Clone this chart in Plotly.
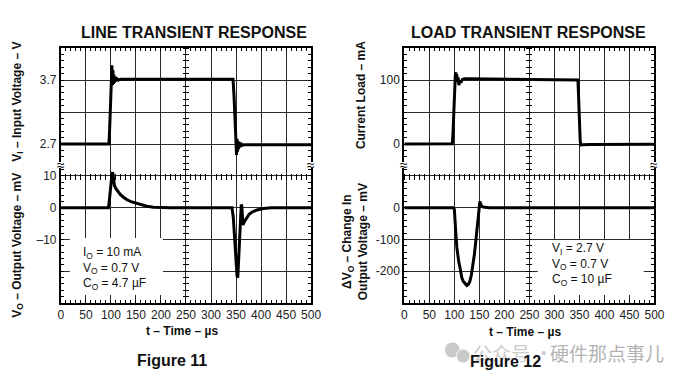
import plotly.graph_objects as go

# ---------------- data ----------------
# Figure 11 - line transient, input voltage (V)
line_t_in = [0, 96, 97.5, 99, 100.5, 102, 103, 104, 105, 106, 107, 108.5, 110, 112, 115, 120,
             200, 300, 344, 346, 348, 349.5, 351, 352, 353, 354, 355, 356.5, 358, 360, 363, 368, 380, 500]
line_v_in = [2.70, 2.70, 2.95, 3.35, 3.70, 3.93, 3.62, 3.85, 3.64, 3.78, 3.66, 3.75, 3.68, 3.72, 3.70, 3.71,
             3.71, 3.71, 3.71, 3.45, 3.00, 2.70, 2.53, 2.78, 2.58, 2.74, 2.62, 2.73, 2.65, 2.71, 2.68, 2.69, 2.69, 2.69]

# Figure 11 - output voltage (mV)
line_t_out = [0, 95, 97, 99, 100.5, 102, 103.5, 105, 107, 110, 114, 119, 125, 132, 140, 150, 160, 172, 185,
              200, 220, 342, 344.5, 347, 349.5, 352, 353.5, 355, 357, 359, 360.5, 361.5, 362.5, 364, 367,
              371, 376, 383, 392, 405, 420, 500]
line_v_out = [0, 0, 2.5, 6.0, 8.0, 10.5, 11.2, 8.5, 7.0, 6.0, 5.0, 4.1, 3.3, 2.5, 1.9, 1.4, 0.9, 0.45, 0.15,
              0.05, 0, 0, -3, -9, -16, -21.5, -22, -17, -8, -2, 1, 0.5, -4, -5.4, -4.3,
              -3.1, -2.1, -1.3, -0.7, -0.25, 0, 0]

# Figure 12 - load transient, load current (mA)
load_t_i = [0, 96, 97.5, 99, 100.5, 102, 103, 104, 105, 106, 107.5, 109, 111, 113, 116, 120, 130,
            200, 300, 347, 348.5, 350, 351.5, 353, 356, 370, 500]
load_i = [0, 0.5, 20, 55, 88, 108, 112, 100, 109, 97, 104, 92, 99, 96, 101, 102, 102,
          101.5, 101, 100, 70, 30, 5, -1.5, -1, -0.7, -0.5]

# Figure 12 - change in output voltage (mV)
load_t_v = [0, 98, 100, 101.5, 103, 105, 107, 109, 111, 113, 115, 118, 121.5, 125, 128, 131, 134, 137,
            140, 142.5, 145, 147.5, 149.5, 151, 152.5, 155, 158, 163, 170, 500]
load_dv = [0, 0, -5, -30, -80, -125, -155, -172, -186, -205, -221, -232, -240, -245, -242, -232, -212, -185,
           -148, -111, -72, -30, 5, 20, 12, 5, 2, 0.5, 0, 0]

# tick labels
x_ticks = [0, 50, 100, 150, 200, 250, 300, 350, 400, 450, 500]
x_tick_text = [str(v) for v in x_ticks]
vin_ticks = [2.7, 3.2, 3.7]
vin_tick_text = ["2.7", "", "3.7"]
vout_ticks = [-20, -10, 0, 10]
vout_tick_text = ["", "–10", "0", "10"]
iload_ticks = [0, 50, 100]
iload_tick_text = ["0", "", "100"]
dv_ticks = [-200, -100, 0, 100]
dv_tick_text = ["-200", "-100", "0", ""]

# ---------------- layout helpers ----------------
W, H = 690, 381
FONT = "Liberation Sans, Arial, sans-serif"
CJK = "Noto Sans CJK SC, sans-serif"


def PX(x):
    return x / W


def PY(y):
    return 1 - y / H


X_RANGE = [0, 500]
VIN_RANGE = [2.372, 4.2]
VOUT_RANGE = [-30, 13.46]
ILOAD_RANGE = [-32.8, 150]
DV_RANGE = [-300, 134.6]

F1 = [PX(59), PX(314)]
F2 = [PX(409), PX(664)]
TOP = [PY(165), PY(48)]
BOT = [PY(303), PY(165)]

fig = go.Figure()
LINE = dict(color="black", width=3)
fig.add_trace(go.Scatter(x=line_t_in, y=line_v_in, mode="lines", line=LINE, xaxis="x2", yaxis="y2"))
fig.add_trace(go.Scatter(x=line_t_out, y=line_v_out, mode="lines", line=LINE, xaxis="x", yaxis="y"))
fig.add_trace(go.Scatter(x=load_t_i, y=load_i, mode="lines", line=LINE, xaxis="x4", yaxis="y4"))
fig.add_trace(go.Scatter(x=load_t_v, y=load_dv, mode="lines", line=LINE, xaxis="x3", yaxis="y3"))

# dummy traces for the decorative centre-line tick axes
for xa, ya in [("x2", "y5"), ("x", "y6"), ("x5", "y"), ("x4", "y7"), ("x3", "y8"), ("x6", "y3")]:
    fig.add_trace(go.Scatter(x=[None], y=[None], xaxis=xa, yaxis=ya, mode="lines", hoverinfo="skip"))

base = dict(showgrid=True, gridcolor="#2a2a2a", gridwidth=1, zeroline=False,
            showline=True, linecolor="black", linewidth=2,
            ticks="inside", ticklen=3, tickcolor="black", tickwidth=1,
            tickfont=dict(family=FONT, size=12, color="#222"), tickmode="array")


def minor(t0, dt):
    return dict(tickmode="linear", tick0=t0, dtick=dt, ticks="inside", ticklen=3,
                tickcolor="black", tickwidth=1, showgrid=False)


def xax(domain, anchor, side, labels, match=None):
    d = dict(base, domain=domain, anchor=anchor, side=side, range=X_RANGE,
             tickvals=x_ticks, ticktext=x_tick_text, showticklabels=labels,
             minor=minor(0, 10))
    if match:
        d["matches"] = match
    return d


def yax(domain, anchor, rng, tv, tt, t0, dt):
    return dict(base, domain=domain, anchor=anchor, range=rng, tickvals=tv, ticktext=tt,
                mirror="ticks", minor=minor(t0, dt))


def center_y(overlay, xpos, rng, t0, dt):
    return dict(overlaying=overlay, anchor="free", position=xpos, side="left", range=rng,
                showgrid=False, zeroline=False, showline=False, showticklabels=False,
                ticks="outside", ticklen=6, tickcolor="black", tickwidth=1,
                tickmode="linear", tick0=t0, dtick=dt)


def center_x(overlay, ypos):
    return dict(overlaying=overlay, anchor="free", position=ypos, side="bottom", range=X_RANGE,
                showgrid=False, zeroline=False, showline=False, showticklabels=False,
                ticks="outside", ticklen=6, tickcolor="black", tickwidth=1,
                tickmode="linear", tick0=0, dtick=10)


c1 = (59 + 314) / 2
c2 = (409 + 664) / 2

fig.update_layout(
    width=W, height=H, margin=dict(l=0, r=0, t=0, b=0),
    paper_bgcolor="white", plot_bgcolor="white", showlegend=False,
    xaxis=xax(F1, "y", "bottom", True),
    xaxis2=xax(F1, "y2", "top", False, "x"),
    xaxis3=xax(F2, "y3", "bottom", True),
    xaxis4=xax(F2, "y4", "top", False, "x3"),
    yaxis=yax(BOT, "x", VOUT_RANGE, vout_ticks, vout_tick_text, 0, 2),
    yaxis2=yax(TOP, "x2", VIN_RANGE, vin_ticks, vin_tick_text, 2.7, 0.1),
    yaxis3=yax(BOT, "x3", DV_RANGE, dv_ticks, dv_tick_text, 0, 20),
    yaxis4=yax(TOP, "x4", ILOAD_RANGE, iload_ticks, iload_tick_text, 0, 10),
    yaxis5=center_y("y2", PX(c1 + 3), VIN_RANGE, 2.7, 0.1),
    yaxis6=center_y("y", PX(c1 + 3), VOUT_RANGE, 0, 2),
    yaxis7=center_y("y4", PX(c2 + 3), ILOAD_RANGE, 0, 10),
    yaxis8=center_y("y3", PX(c2 + 3), DV_RANGE, 0, 20),
    xaxis5=center_x("x", PY(173)),
    xaxis6=center_x("x3", PY(173)),
)

shapes = []
annotations = []


def ann(text, x, y, size=12, bold=False, angle=0, color="#111", family=FONT, xanchor="center", align="center"):
    annotations.append(dict(text=f"<b>{text}</b>" if bold else text, x=PX(x), y=PY(y),
                            xref="paper", yref="paper", showarrow=False, textangle=angle,
                            xanchor=xanchor, yanchor="middle", align=align,
                            font=dict(family=family, size=size, color=color)))


# watermark (drawn first)
for cx, cy, r in [(458, 350, 8), (469, 356, 7)]:
    shapes.append(dict(type="circle", xref="paper", yref="paper", x0=PX(cx - r), x1=PX(cx + r),
                       y0=PY(cy + r), y1=PY(cy - r), fillcolor="#c9c9c9", line=dict(color="white", width=1),
                       layer="above"))
ann("公众号 ·", 477, 352, size=19, color="#cdcdcd", family=CJK, xanchor="left")
ann("硬件那点事儿", 555, 352, size=19, color="#b3b3b3", family=CJK, xanchor="left")

# titles
ann("LINE TRANSIENT RESPONSE", 195, 32.5, size=16, bold=True)
ann("LOAD TRANSIENT RESPONSE", 536, 32.5, size=16, bold=True)
ann("V<sub>I</sub> – Input Voltage – V", 15, 102, bold=True, angle=-90)
ann("V<sub>O</sub> – Output Voltage – mV", 15, 245, bold=True, angle=-90)
ann("Current Load – mA", 365, 95, bold=True, angle=-90)
ann("ΔV<sub>O</sub> – Change In<br>Output Voltage – mV", 359, 242, bold=True, angle=-90)
ann("t – Time – µs", 182, 331, bold=True)
ann("t – Time – µs", 532, 332, bold=True)
ann("Figure 11", 172, 360, size=16, bold=True)
ann("Figure 12", 512, 361, size=16, bold=True)

# condition boxes
for x0, x1, y0, y1 in [(68, 163, 238, 295), (545, 653, 240, 295)]:
    shapes.append(dict(type="rect", xref="paper", yref="paper", x0=PX(x0), x1=PX(x1), y0=PY(y1), y1=PY(y0),
                       fillcolor="white", line=dict(width=0), layer="above"))
ann("I<sub>O</sub> = 10 mA<br>V<sub>O</sub> = 0.7 V<br>C<sub>O</sub> = 4.7 µF", 79, 268, xanchor="left", align="left")
ann("V<sub>I</sub> = 2.7 V<br>V<sub>O</sub> = 0.7 V<br>C<sub>O</sub> = 10 µF", 557, 264, xanchor="left", align="left")

# axis-break marks
for bx in [59, 314, 409, 664]:
    shapes.append(dict(type="line", xref="paper", yref="paper", x0=PX(bx), x1=PX(bx), y0=PY(168), y1=PY(162),
                       line=dict(color="white", width=5), layer="above"))
    ann("≈", bx, 165, size=14, color="black")

fig.update_layout(shapes=shapes, annotations=annotations)
fig.write_html("out.html", config={"displayModeBar": False},
               post_script="document.body.style.margin='0';document.body.style.overflow='hidden';")
